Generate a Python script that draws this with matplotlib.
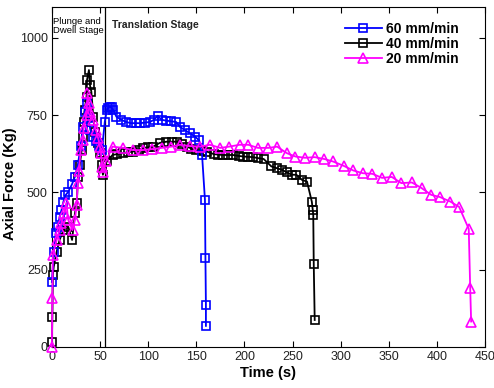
import matplotlib
matplotlib.use('Agg')
import matplotlib.pyplot as plt

plt.rcParams['font.family'] = ['Liberation Sans', 'DejaVu Sans']

# 60 mm/min
t60 = [0, 2, 4, 6, 8, 10, 12, 14, 17, 21, 24, 27, 30, 32, 34, 36, 38, 40, 43, 46,
       49, 52, 55, 57, 58, 60, 62, 64, 67, 72, 77, 82, 87, 92, 97, 102, 106, 110,
       114, 119, 124, 129, 133, 138, 143, 149, 153, 156, 159, 159.5, 160, 160]
f60 = [210, 307, 369, 388, 420, 443, 470, 490, 502, 527, 551, 590, 650, 712, 760,
       790, 740, 702, 680, 665, 650, 637, 729, 765, 773, 777, 775, 765, 745, 735,
       728, 724, 724, 724, 726, 728, 735, 748, 735, 732, 730, 728, 712, 702, 692,
       680, 668, 621, 476, 288, 136, 68]

# 40 mm/min
t40 = [0, 0.5, 1, 2, 5, 8, 12, 17, 21, 24, 26, 27, 29, 31, 32, 33, 34, 36, 36.5,
       38.5, 39.5, 41, 43, 44.7, 48, 50, 51.6, 53, 57, 63, 68, 74, 79, 84, 90, 95,
       100, 105, 112, 119, 125, 130, 135, 140, 145, 150, 156, 161, 168, 173, 178,
       183, 188, 194, 199, 204, 209, 214, 220, 228, 234, 239, 244, 249, 254, 260,
       265, 270, 271, 271.5, 272, 273]
f40 = [15, 97, 233, 260, 308, 346, 378, 389, 346, 433, 466, 551, 589, 637, 680,
       729, 767, 810, 864, 896, 848, 826, 745, 697, 660, 627, 589, 557, 600, 621,
       624, 627, 630, 632, 638, 644, 646, 648, 660, 664, 664, 664, 655, 648, 642,
       637, 634, 632, 624, 622, 621, 621, 621, 618, 616, 615, 614, 611, 608, 584,
       578, 573, 565, 557, 557, 540, 535, 470, 443, 427, 269, 87]

# 20 mm/min
t20 = [0, 0.5, 1, 5, 8, 10, 12.5, 15, 17, 21.5, 24, 25.6, 27, 28, 30, 32, 33, 36,
       37, 38.5, 40, 43, 45.7, 48, 50, 51, 52, 53, 56, 63, 74, 84, 95, 104, 114,
       124, 133, 143, 154, 164, 175, 184, 195, 204, 214, 225, 234, 244, 253, 263,
       273, 283, 292, 303, 313, 323, 333, 343, 353, 363, 374, 384, 394, 403, 414,
       423, 433, 434.5, 435.5]
f20 = [0, 158, 298, 346, 378, 400, 433, 466, 411, 378, 411, 459, 530, 568, 637,
       670, 708, 750, 821, 789, 761, 735, 702, 676, 648, 627, 583, 567, 600, 648,
       644, 637, 637, 640, 644, 648, 654, 650, 648, 654, 644, 648, 654, 654, 644,
       644, 648, 627, 616, 612, 614, 608, 600, 586, 571, 562, 560, 547, 550, 530,
       532, 514, 492, 485, 470, 453, 382, 192, 82]

fig = plt.figure(figsize=(4.94, 3.88), dpi=100)
ax = fig.add_axes([0.105, 0.106, 0.877, 0.876])

ax.plot(t60, f60, 's-', color='#0000ff', mfc='none', ms=5.5, mew=1.2, lw=1.3,
        label='60 mm/min', zorder=3, clip_on=False)
ax.plot(t40, f40, 's-', color='black', mfc='none', ms=5.5, mew=1.2, lw=1.3,
        label='40 mm/min', zorder=2, clip_on=False)
ax.plot(t20, f20, '^-', color='#ff00ff', mfc='none', ms=6.5, mew=1.2, lw=1.3,
        label='20 mm/min', zorder=4, clip_on=False)

ax.axvline(55, color='black', lw=0.9, zorder=1)

ax.set_xlim(0, 450)
ax.set_ylim(0, 1100)
ax.set_xticks(range(0, 451, 50))
ax.set_yticks([0, 250, 500, 750, 1000])
ax.tick_params(direction='in', top=True, right=True, labelsize=9,
               labelcolor='#222222', length=4, width=0.8, pad=3)

ax.text(1, 1040, 'Plunge and\nDwell Stage', fontsize=6.8, va='center',
        ha='left', linespacing=1.0)
ax.text(62, 1043, 'Translation Stage', fontsize=7.5, fontweight='bold',
        va='center', ha='left', color='#222222')

ax.set_xlabel('Time (s)', fontsize=10.5, fontweight='bold', labelpad=2)
ax.set_ylabel('Axial Force (Kg)', fontsize=10.5, fontweight='bold')
ax.yaxis.set_label_coords(-0.08, 0.48)

leg = ax.legend(loc='upper right', frameon=False,
                prop={'weight': 'bold', 'size': 10}, handlelength=2.7,
                labelspacing=0.05, handletextpad=0.3, borderaxespad=0.7,
                bbox_to_anchor=(0.975, 1.0))

fig.savefig('out.png', dpi=100)
